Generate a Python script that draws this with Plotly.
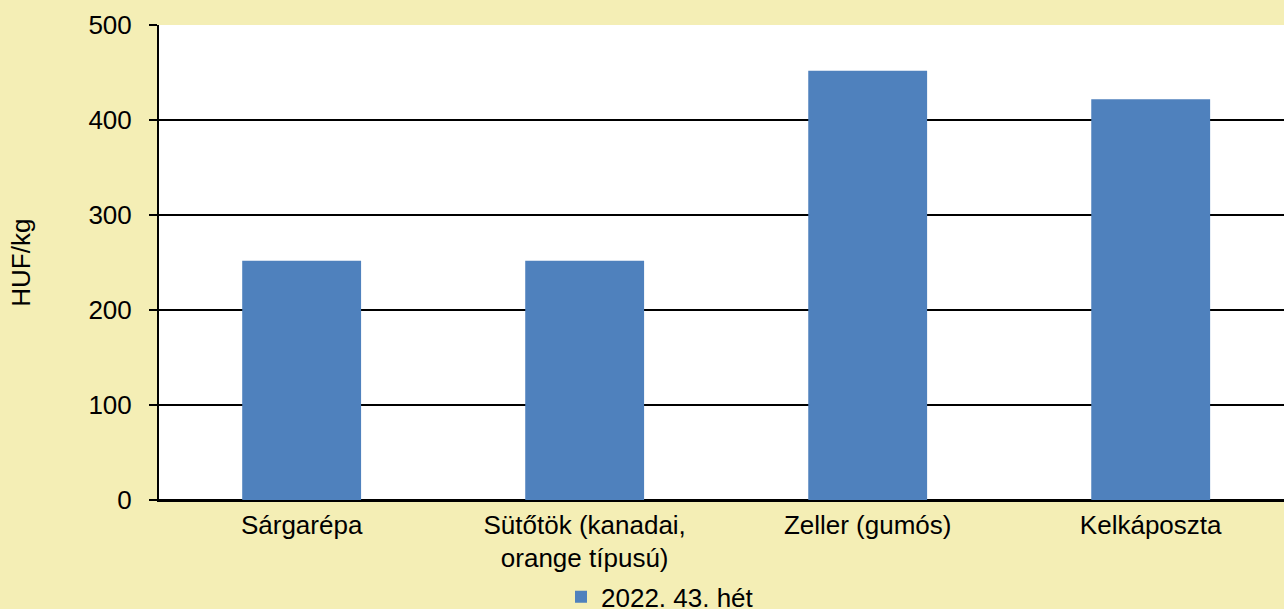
import plotly.graph_objects as go

categories = ["Sárgarépa", "Sütőtök (kanadai,<br>orange típusú)", "Zeller (gumós)", "Kelkáposzta"]
values = [252, 252, 452, 422]
series_name = "2022. 43. hét"
y_ticks = [0, 100, 200, 300, 400, 500]

bg = "#F4EEB5"
bar_color = "#4F81BD"
font_family = "Liberation Sans, Arial, sans-serif"
fs = 26

fig = go.Figure()
fig.add_trace(go.Bar(
    x=categories, y=values, name=series_name,
    marker=dict(color=bar_color, line=dict(width=0)),
    showlegend=True,
))

fig.update_layout(
    width=1284, height=609,
    paper_bgcolor=bg, plot_bgcolor="white",
    margin=dict(l=159, r=0, t=25, b=107),
    bargap=0.58,
    font=dict(family=font_family, size=fs, color="black"),
    showlegend=True,
    legend=dict(
        orientation="h", xref="container", yref="container",
        x=561 / 1284, xanchor="left", y=0.02, yanchor="middle",
        font=dict(size=fs), bgcolor="rgba(0,0,0,0)",
        itemwidth=30,
    ),
    xaxis=dict(
        range=[-0.504, 3.471],
        showline=True, linecolor="black", linewidth=2,
        ticks="", tickfont=dict(size=fs),
        showgrid=False,
    ),
    yaxis=dict(
        range=[0, 500], tickvals=y_ticks,
        showgrid=True, gridcolor="black", gridwidth=2,
        zeroline=True, zerolinecolor="black", zerolinewidth=2,
        showline=True, linecolor="black", linewidth=2,
        ticks="outside", ticklen=8, tickwidth=2, tickcolor="black",
        ticklabelstandoff=12,
        tickfont=dict(size=fs),
        title=dict(text="HUF/kg", font=dict(size=fs), standoff=50),
    ),
)

fig.write_html(
    "out.html",
    config={"displayModeBar": False},
    post_script="document.body.style.margin='0';document.body.style.background='%s';" % bg,
)
